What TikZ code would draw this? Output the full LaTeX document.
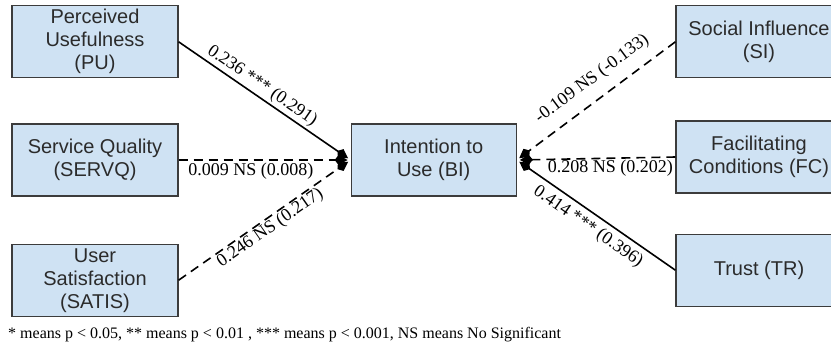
\documentclass[tikz,border=0pt]{standalone}
\usepackage{fontspec}
\setmainfont{Liberation Serif}
\setsansfont{Liberation Sans}
\usepackage{tikz}
\usetikzlibrary{arrows.meta,positioning}
\usepackage{xcolor}
\definecolor{boxfill}{HTML}{CFE2F3}
\definecolor{boxline}{HTML}{3C3C3C}
\definecolor{boxtext}{HTML}{2B2B2B}

\begin{document}
\begin{tikzpicture}[x=1pt, y=-1pt, node distance=45pt and 170pt,
  box/.style={draw=boxline, line width=1.2pt, fill=boxfill, align=center, text=boxtext, minimum width=166pt, minimum height=72pt, inner sep=2pt, font=\sffamily\fontsize{20}{23}\selectfont},
  lab/.style={font=\fontsize{18}{20}\selectfont, inner sep=2pt},
  link/.style={line width=1.6pt, -{Kite[length=13pt,width=10pt,inset=4pt]}, shorten >=3pt},
  ns/.style={link, dash pattern=on 9pt off 6pt}]
\useasboundingbox (0,0) rectangle (831,351);
\node[box] (servq) at (95,160) {Service Quality\\(SERVQ)};
\node[box, above=of servq] (pu) {Perceived\\Usefulness\\(PU)};
\node[box, below=47pt of servq] (satis) {User\\Satisfaction\\(SATIS)};
\node[box, minimum width=165pt, right=172pt of servq] (bi) {Intention to\\Use (BI)};
\node[box] (fc) at (759,157) {Facilitating\\Conditions (FC)};
\node[box, above=42pt of fc] (si) {Social Influence\\(SI)};
\node[box, below=40pt of fc] (tr) {Trust (TR)};
% paths into BI
\draw[link] (pu.east) -- node[lab, sloped, above, pos=0.45] {0.236 *** (0.291)} (bi.west);
\draw[ns] (servq.east) -- node[lab, below, pos=0.42] {0.009 NS (0.008)} (bi.west);
\draw[ns] (satis.east) -- node[lab, sloped, below, inner sep=1pt, pos=0.5] {0.246 NS (0.217)} (bi.west);
\draw[ns] (si.west) -- node[lab, sloped, above, inner sep=11pt, pos=0.45] {-0.109 NS (-0.133)} (bi.east);
\draw[ns] (fc.west) -- node[lab, below, inner sep=1pt, pos=0.41] {0.208 NS (0.202)} (bi.east);
\draw[link] (tr.west) -- node[lab, sloped, below, inner sep=5pt, pos=0.5] {0.414 *** (0.396)} (bi.east);
\node[anchor=west, font=\fontsize{16}{18}\selectfont, inner sep=0pt] (note) at (8,335) {* means p < 0.05, ** means p < 0.01 , *** means p < 0.001, NS means No Significant};
\end{tikzpicture}
\end{document}
